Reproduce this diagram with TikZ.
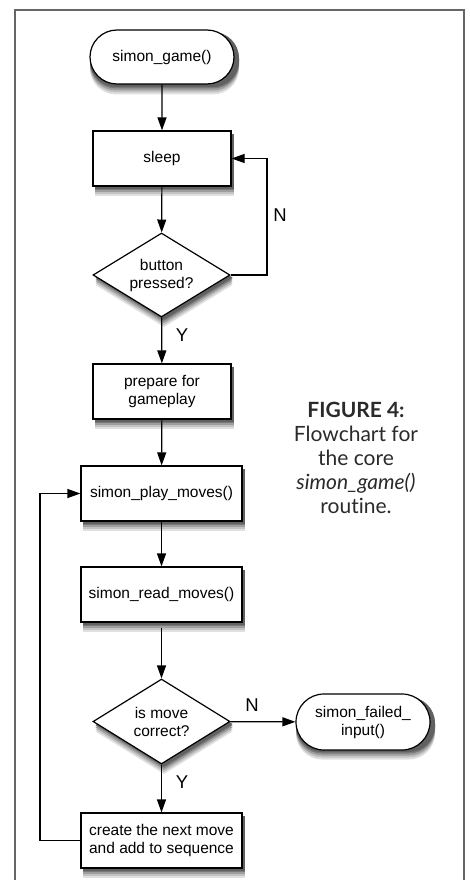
\documentclass[tikz,border=0pt]{standalone}
\usepackage{fontspec}
\setmainfont{Liberation Sans}
\newfontfamily\capfont[Ligatures=NoCommon]{Lato}
\usetikzlibrary{shapes.geometric,shapes.misc,arrows.meta}
\definecolor{framec}{HTML}{666666}
\definecolor{capc}{HTML}{2A2A2A}
\tikzset{
  procbox/.style={draw=black, line width=1.2pt, fill=white, rectangle, minimum height=55pt, inner sep=2pt, align=center, font=\fontsize{15.5}{18}\selectfont},
  termbox/.style={procbox, rounded rectangle},
  decbox/.style={draw=black, line width=1.2pt, fill=white, diamond, aspect=1.63, minimum width=137pt, minimum height=84pt, inner sep=0pt, align=center, font=\fontsize{15.5}{18}\selectfont},
  conn/.style={line width=1.2pt, -{Triangle[length=13pt,width=9pt]}},
  yn/.style={font=\fontsize{18.5}{20}\selectfont}
}
\begin{document}
\begin{tikzpicture}[x=1pt,y=-1pt]
\useasboundingbox (0,0) rectangle (469,880);
\draw[framec, line width=1.4pt] (15,882) -- (15,10) -- (464,10) -- (464,882);

% drop shadows, drawn first so that the boxes cover them
\foreach \d/\c in {10/12,8/24,6/38,4/52,2.5/62}{
  \foreach \cx/\cy/\w in {162/158.5/139, 162/391.5/139, 161.5/493.5/162, 161.5/594.5/162, 161.5/840.5/162}{
    \fill[black!\c] (\cx-\w/2+2.5,\cy-27.5+\d) rectangle (\cx+\w/2+2.5,\cy+27.5+\d);
  }
  \foreach \cx/\cy/\hh in {161.5/275/42, 161.5/721.5/42.5}{
    \fill[black!\c] (\cx+2.5,\cy-\hh+\d) -- (\cx+71,\cy+\d) -- (\cx+2.5,\cy+\hh+\d) -- (\cx-66,\cy+\d) -- cycle;
  }
  \foreach \cx/\cy/\w in {162/57/149, 363/722/139}{
    \fill[black!\c, rounded corners=26pt] (\cx-\w/2+2.5,\cy-27.5+\d) rectangle (\cx+\w/2+2.5,\cy+27.5+\d);
  }
}

\node[termbox, minimum width=148pt, minimum height=54pt] (start) at (162,57) {simon\_game()};
\node[procbox, minimum width=138pt] (sleep) at (162,158.5) {sleep};
\node[decbox] (dec1) at (161.5,275) {button\\pressed?};
\node[procbox, minimum width=138pt] (prep) at (162,391.5) {prepare for\\gameplay};
\node[procbox, minimum width=161pt] (play) at (161.5,493.5) {simon\_play\_moves()};
\node[procbox, minimum width=161pt] (read) at (161.5,594.5) {simon\_read\_moves()};
\node[decbox, minimum height=85pt] (dec2) at (161.5,721.5) {is move\\correct?};
\node[termbox, minimum width=138pt, minimum height=56pt] (fail) at (363,722) {simon\_failed\_\\input()};
\node[procbox, minimum width=161pt] (create) at (161.5,840.5) {create the next move\\and add to sequence};

\coordinate (n1a) at (267,275);
\coordinate (n1b) at (267,158.5);
\coordinate (l1a) at (40,840.5);
\coordinate (l1b) at (40,493.5);

\draw[conn] (start) -- (sleep);
\draw[conn] (sleep) -- (dec1);
\draw[conn] (dec1) -- (prep);
\draw[conn] (prep) -- (play);
\draw[conn] (play) -- (read);
\draw[conn, shorten <=5pt] (read) -- (dec2);
\draw[conn] (dec2) -- (create);
\draw[conn] (dec2) -- (fail);
\draw[conn] (dec1.east) -- (n1a) -- (n1b) -- (sleep.east);
\draw[conn] (create.west) -- (l1a) -- (l1b) -- (play.west);

\node[yn] (lbn1) at (280,215) {N};
\node[yn] (lby1) at (182,335) {Y};
\node[yn] (lbn2) at (252,705) {N};
\node[yn] (lby2) at (182,782) {Y};

\node[text=capc, align=center, font=\capfont\fontsize{21}{24.2}\selectfont] (cap) at (356,458)
  {\textbf{FIGURE 4:}\\Flowchart for\\the core\\\textit{simon\_game()}\\routine.};
\end{tikzpicture}
\end{document}
